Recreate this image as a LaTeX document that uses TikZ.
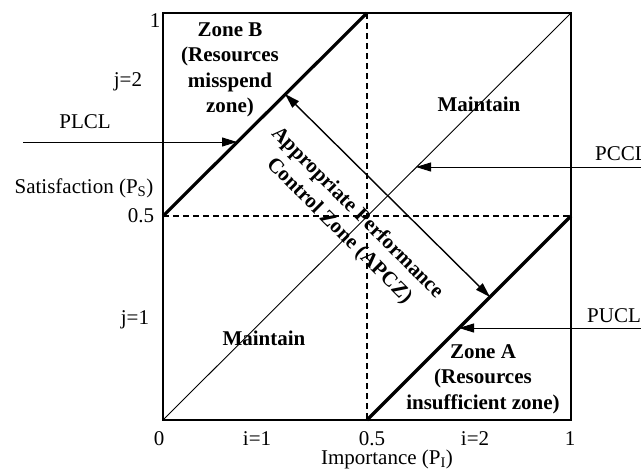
\documentclass[tikz,border=0pt]{standalone}
\usepackage{fontspec}
\setmainfont{Liberation Serif}
\usetikzlibrary{arrows.meta}
\begin{document}
\begin{tikzpicture}[x=1pt,y=-1pt,
  lbl/.style={inner sep=0pt,font=\fontsize{21}{25}\selectfont},
  blbl/.style={inner sep=0pt,align=center,font=\fontsize{21}{25.5}\selectfont\bfseries},
  frame/.style={line width=1.4pt},
  thick line/.style={line width=3.2pt},
  thin line/.style={line width=0.9pt},
  dashline/.style={line width=1.3pt,dash pattern=on 6pt off 4pt},
  pointer/.style={line width=1pt,-{Triangle[length=15pt,width=9pt]}},
  dpointer/.style={line width=1.4pt,{Triangle[length=15pt,width=9pt]}-{Triangle[length=15pt,width=9pt]}}]
\useasboundingbox (0,0) rectangle (641,471);
% corners and key points
\coordinate (BL) at (163,420);
\coordinate (TR) at (571,13);
\coordinate (TL) at (163,13);
\coordinate (BR) at (571,420);
\coordinate (ML) at (163,216);
\coordinate (MR) at (571,216);
\coordinate (MT) at (367,13);
\coordinate (MB) at (367,420);
% frame
\draw[frame] (BL) rectangle (TR);
% dashed midlines
\draw[dashline] (MT) -- (MB);
\draw[dashline] (ML) -- (MR);
% diagonal PCCL
\draw[thin line] (BL) -- (TR);
% thick control limits
\draw[thick line] (ML) -- (MT);
\draw[thick line] (MB) -- (MR);
% arrows
\coordinate (plclS) at (23,142);
\coordinate (plclE) at (237,142);
\coordinate (pcclS) at (645,167);
\coordinate (pcclE) at (416,167);
\coordinate (puclS) at (645,328);
\coordinate (puclE) at (459,328);
\coordinate (apA) at (285,94);
\coordinate (apB) at (490,297);
\draw[pointer] (plclS) -- (plclE);
\draw[pointer] (pcclS) -- (pcclE);
\draw[pointer] (puclS) -- (puclE);
\draw[dpointer] (apA) -- (apB);
% axis labels
\node[lbl] (y1) at (155,21) {1};
\node[lbl] (y05) at (141,216) {0.5};
\node[lbl] (j2) at (128,82) {j=2};
\node[lbl] (j1) at (135,320) {j=1};
\node[lbl] (ylab) at (84,188) {Satisfaction (P\textsubscript{S})};
\node[lbl] (plcl) at (85,122) {PLCL};
\node[lbl,anchor=west] (pccl) at (595,154) {PCCL};
\node[lbl,anchor=west] (pucl) at (587,316) {PUCL};
\node[lbl] (x0) at (159,439) {0};
\node[lbl] (i1) at (257,439) {i=1};
\node[lbl] (x05) at (372,439) {0.5};
\node[lbl] (i2) at (475,439) {i=2};
\node[lbl] (x1) at (570,439) {1};
\node[lbl] (xlab) at (387,459) {Importance (P\textsubscript{I})};
% zone labels
\node[blbl] (zoneB) at (230,70) {Zone B\\(Resources\\misspend\\zone)};
\node[blbl] (zoneA) at (483,379) {Zone A\\(Resources\\insufficient zone)};
\node[blbl] (mainU) at (479,104) {Maintain};
\node[blbl] (mainL) at (264,338) {Maintain};
\node[blbl,rotate=-45] (apcz) at (348,222) {Appropriate Performance\\Control Zone (APCZ)};
\end{tikzpicture}
\end{document}
